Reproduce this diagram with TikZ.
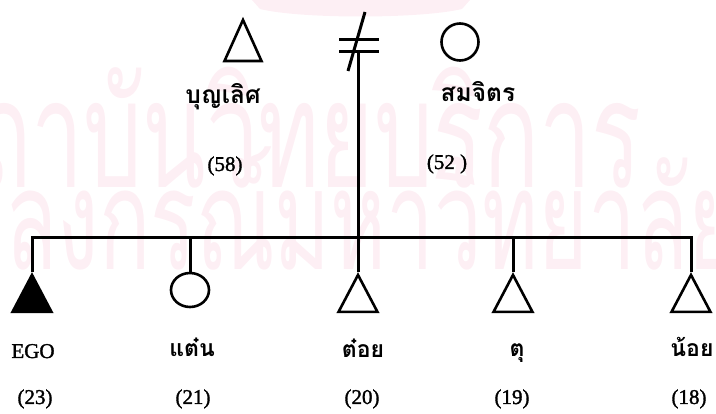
\documentclass[tikz,border=0pt]{standalone}
\usepackage{fontspec}
\usepackage{graphicx}
\setmainfont{Liberation Serif}
\newfontfamily\agefont{Liberation Serif}[FakeBold=1.6]
\newfontfamily\thai[Script=Thai]{Loma}
\usetikzlibrary{shapes.geometric}
\definecolor{wm}{RGB}{253,239,244}
\begin{document}
\begin{tikzpicture}[x=1pt,y=-1pt,
  lw/.style={line width=3pt},
  shp/.style={draw, line width=2.6pt, inner sep=0pt},
  tri/.style={shp, regular polygon, regular polygon sides=3, minimum size=#1},
  circ/.style={shp, circle, minimum size=37pt},
  oval/.style={shp, ellipse, minimum width=38pt, minimum height=34pt},
  lab/.style={font=\agefont\fontsize{21}{21}\selectfont, inner sep=0pt, anchor=base},
  tlab/.style={font=\thai\bfseries\fontsize{23}{23}\selectfont, inner sep=0pt, anchor=base},
  ttlab/.style={font=\thai\bfseries\fontsize{24.5}{24.5}\selectfont, inner sep=0pt, anchor=base},
  wmk/.style={text=wm, inner sep=0pt, anchor=base east}
]
\useasboundingbox (0,0) rectangle (716,414);
% watermark
\begin{scope}
\clip (0,0) rectangle (716,414);
\fill[wm] (252,0) -- (470,0) -- (462,9) .. controls (420,19) and (300,19) .. (260,9) -- cycle;
\node[wmk, font=\thai\fontsize{150}{150}\selectfont] (w1) at (642,188) {\scalebox{0.62}[1]{สถาบันวิทยบริการ}};
\node[wmk, font=\thai\fontsize{140}{140}\selectfont] (w2) at (738,270) {\scalebox{0.607}[1]{จุฬาลงกรณ์มหาวิทยาลัย}};
\end{scope}
% parents
\begin{scope}[shift={(243,47.3)}, yscale=1.28, transform shape]
  \node[tri=42.7pt] (bun) {};
\end{scope}
\node[circ] (som) at (460,42) {};
% divorce sign
\coordinate (m1a) at (339,40);
\coordinate (m1b) at (379,40);
\coordinate (m2a) at (339,52);
\coordinate (m2b) at (379,52);
\coordinate (sla) at (365,12);
\coordinate (slb) at (348,71);
\coordinate (d) at (358,52);
\draw[lw] (m1a) -- (m1b);
\draw[lw] (m2a) -- (m2b);
\draw[lw] (sla) -- (slb);
% children
\coordinate (s1) at (32,238);
\coordinate (s2) at (190,238);
\coordinate (s3) at (358,238);
\coordinate (s4) at (513,238);
\coordinate (s5) at (691,238);
\begin{scope}[shift={(32,299.6)}, yscale=1.095, transform shape]
  \node[tri=45pt, fill=black] (ego) {};
\end{scope}
\node[oval] (tan) at (190,290) {};
\begin{scope}[shift={(358,299.6)}, yscale=1.095, transform shape]
  \node[tri=45pt] (toi) {};
\end{scope}
\begin{scope}[shift={(513,299.6)}, yscale=1.095, transform shape]
  \node[tri=45pt] (tu) {};
\end{scope}
\begin{scope}[shift={(691,299.6)}, yscale=1.095, transform shape]
  \node[tri=45pt] (noi) {};
\end{scope}
\draw[lw] (ego.north) -- (s1) -- (s5) -- (noi.north);
\draw[lw] (d) -- (s3) -- (toi.north);
\draw[lw] (s2) -- (tan.north);
\draw[lw] (s4) -- (tu.north);
% labels
\node[ttlab] (lbun) at (223,104) {บุญเลิศ};
\node[lab] (abun) at (225,171) {(58)};
\node[ttlab] (lsom) at (478,102) {สมจิตร};
\node[lab] (asom) at (447,169) {(52 )};
\node[lab] (lego) at (33,358) {EGO};
\node[tlab] (ltan) at (192,357) {แต๋น};
\node[tlab] (ltoi) at (363,358) {ต๋อย};
\node[tlab] (ltu) at (517,357) {ตุ};
\node[tlab] (lnoi) at (692,357) {น้อย};
\node[lab] (aego) at (35,404) {(23)};
\node[lab] (atan) at (193,404) {(21)};
\node[lab] (atoi) at (362,404) {(20)};
\node[lab] (atu) at (512,404) {(19)};
\node[lab] (anoi) at (689,404) {(18)};
\end{tikzpicture}
\end{document}
